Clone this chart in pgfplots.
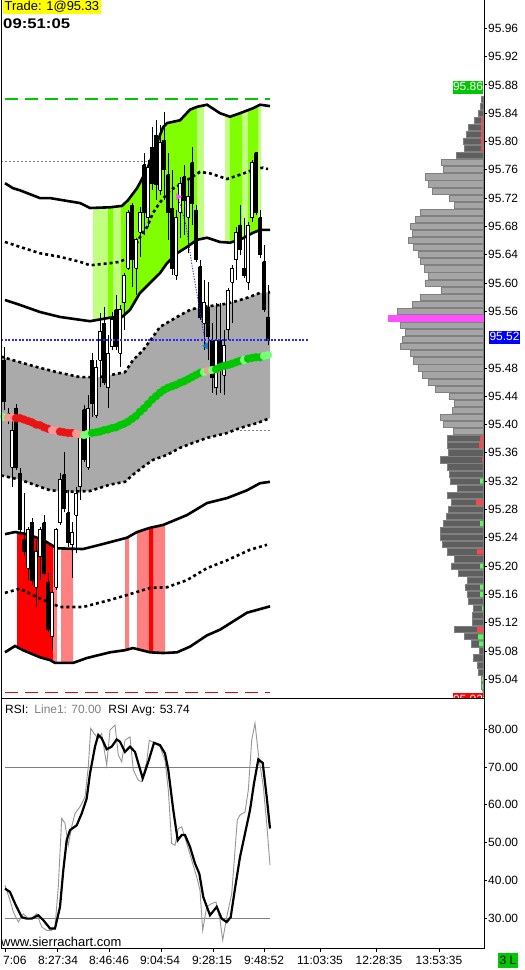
\documentclass[border=0pt]{standalone}
\usepackage{pgfplots}
\pgfplotsset{compat=1.18}
\usepackage{pgfplotstable}
\usepackage{fontspec}
\setmainfont{Liberation Sans}

\definecolor{cGb}{RGB}{128,255,0}
\definecolor{cGl}{RGB}{192,255,128}
\definecolor{cRb}{RGB}{255,0,0}
\definecolor{cRl}{RGB}{255,128,128}
\definecolor{cBand}{RGB}{170,170,170}
\definecolor{cR}{RGB}{235,20,20}
\definecolor{cP}{RGB}{255,150,150}
\definecolor{cG}{RGB}{0,200,0}
\definecolor{cL}{RGB}{120,255,120}
\definecolor{cDashG}{RGB}{0,200,0}
\definecolor{cDashR}{RGB}{230,0,0}
\definecolor{cProfL}{RGB}{165,165,165}
\definecolor{cProfD}{RGB}{95,95,95}
\definecolor{cProfO}{RGB}{128,128,128}
\definecolor{cMag}{RGB}{255,80,255}
\definecolor{cMkR}{RGB}{255,70,70}
\definecolor{cMkG}{RGB}{80,255,80}
\definecolor{cYel}{RGB}{255,255,0}
\definecolor{cBlue}{RGB}{0,0,255}
\definecolor{cBlueL}{RGB}{40,40,255}
\definecolor{cTri}{RGB}{30,120,200}
\definecolor{tgray}{RGB}{128,128,128}
\definecolor{cRSIg}{RGB}{150,150,150}

% candle: x, open, high, low, close
\newcommand\candle[5]{%
  \pgfmathsetmacro\xa{#1-1.4}%
  \pgfmathsetmacro\xb{#1+1.4}%
  \ifdim #5pt>#2pt \def\cfill{white}\else\def\cfill{black}\fi
  \edef\tmp{%
    \noexpand\addplot[black, line width=1bp] coordinates {(#1,#4) (#1,#3)};
    \noexpand\addplot[draw=black, fill=\cfill, line width=0.9bp] coordinates {(\xa,#2) (\xb,#2) (\xb,#5) (\xa,#5) (\xa,#2)};
  }\tmp}

\pgfplotstableread{
x y
5 95.741
13 95.734
20 95.731
40 95.720
50 95.720
80 95.713
90 95.706
110 95.707
122 95.709
128 95.717
137 95.734
147 95.760
157 95.798
163 95.820
167 95.826
180 95.830
190 95.845
197 95.849
207 95.852
220 95.840
230 95.835
240 95.840
253 95.847
260 95.852
270 95.850
}\UA
\pgfplotstableread{
x y
5 95.658
20 95.651
40 95.642
60 95.637
80 95.630
90 95.625
110 95.628
120 95.630
130 95.637
140 95.665
147 95.679
153 95.699
160 95.714
170 95.731
180 95.739
190 95.748
200 95.757
210 95.755
227 95.747
240 95.753
253 95.760
263 95.763
268 95.761
}\UB
\pgfplotstableread{
x y
5 95.576
20 95.569
40 95.559
60 95.552
80 95.548
90 95.546
110 95.551
122 95.552
130 95.562
140 95.586
150 95.600
160 95.614
167 95.628
177 95.642
187 95.651
197 95.661
207 95.664
220 95.658
230 95.657
240 95.661
253 95.671
260 95.675
270 95.675
}\UC
\pgfplotstableread{
x y
1 95.496
20 95.488
40 95.480
60 95.473
80 95.467
100 95.467
125 95.474
133 95.491
143 95.505
153 95.524
160 95.538
177 95.552
190 95.562
200 95.566
220 95.569
233 95.573
247 95.579
260 95.586
270 95.587
}\MA
\pgfplotstableread{
x y
1 95.328
20 95.322
40 95.312
50 95.307
70 95.305
90 95.306
110 95.315
125 95.319
133 95.329
143 95.340
153 95.350
167 95.357
180 95.367
193 95.374
207 95.381
227 95.388
240 95.395
257 95.402
270 95.409
}\MB
% gray band outline: upper edge left to right, lower edge right to left
\pgfplotstableread{
x y
1 95.496
20 95.488
40 95.480
60 95.473
80 95.467
100 95.467
125 95.474
133 95.491
143 95.505
153 95.524
160 95.538
177 95.552
190 95.562
200 95.566
220 95.569
233 95.573
247 95.579
260 95.586
270 95.587
270 95.409
257 95.402
240 95.395
227 95.388
207 95.381
193 95.374
180 95.367
167 95.357
153 95.350
143 95.340
133 95.329
125 95.319
110 95.315
90 95.306
70 95.305
50 95.307
40 95.312
20 95.322
1 95.328
}\Band
\pgfplotstableread{
x y
5 95.245
15 95.248
27 95.245
43 95.237
57 95.225
83 95.224
100 95.230
127 95.240
137 95.248
150 95.254
163 95.258
170 95.262
187 95.272
207 95.289
227 95.296
247 95.307
260 95.317
270 95.319
}\LA
\pgfplotstableread{
x y
5 95.162
20 95.168
37 95.156
60 95.142
83 95.142
110 95.152
127 95.159
150 95.169
167 95.170
187 95.180
207 95.197
227 95.208
250 95.223
267 95.230
}\LB
\pgfplotstableread{
x y
5 95.078
15 95.087
23 95.081
40 95.071
50 95.067
55 95.063
73 95.063
87 95.070
110 95.078
125 95.081
133 95.084
150 95.078
163 95.077
177 95.078
190 95.086
207 95.102
220 95.110
247 95.134
270 95.143
}\LC
\pgfplotstableread{
x y c
4 95.411 l
8 95.410 p
12 95.410 p
16 95.409 r
20 95.409 r
24 95.407 r
28 95.405 r
32 95.403 r
36 95.400 r
40 95.399 r
44 95.396 r
48 95.394 r
52 95.392 p
56 95.391 p
60 95.390 r
64 95.389 r
68 95.388 r
72 95.388 r
76 95.387 p
80 95.386 p
84 95.385 l
88 95.387 l
92 95.388 g
96 95.389 g
100 95.390 g
104 95.392 g
108 95.393 g
112 95.395 g
116 95.396 g
120 95.399 g
124 95.401 g
128 95.404 g
132 95.408 g
136 95.412 g
140 95.418 g
144 95.423 g
148 95.429 g
152 95.435 g
156 95.440 g
160 95.445 g
164 95.449 g
168 95.452 g
172 95.454 g
176 95.456 g
180 95.459 g
184 95.461 g
188 95.464 g
192 95.467 g
196 95.470 g
200 95.473 g
204 95.474 l
208 95.476 p
212 95.477 l
216 95.478 g
220 95.481 g
224 95.483 g
228 95.484 g
232 95.486 g
236 95.488 g
240 95.490 g
244 95.491 l
248 95.493 g
252 95.494 g
256 95.495 g
260 95.495 g
264 95.497 l
268 95.498 l
}\Mid
\pgfplotstableread{
l p
2 95.86
3 95.85
5 95.84
9 95.83
15 95.82
17 95.81
20 95.80
19 95.79
27 95.78
36 95.38
36 95.37
35 95.36
43 95.35
36 95.34
34 95.33
33 95.32
26 95.31
36 95.30
32 95.29
35 95.28
37 95.27
40 95.26
43 95.25
43 95.24
41 95.23
36 95.22
29 95.21
32 95.20
25 95.19
16 95.18
18 95.17
16 95.16
15 95.15
10 95.14
11 95.13
11 95.12
29 95.11
19 95.10
12 95.09
4 95.08
10 95.07
6 95.06
5 95.05
2 95.04
2 95.03
1 95.02
}\ProfD
\pgfplotstableread{
l p
42 95.77
40 95.76
58 95.75
55 95.74
51 95.73
34 95.72
29 95.71
63 95.70
68 95.69
73 95.68
71 95.67
75 95.66
70 95.65
65 95.64
63 95.63
59 95.62
55 95.61
58 95.60
42 95.59
63 95.58
71 95.57
86 95.56
83 95.54
78 95.53
81 95.52
83 95.51
73 95.50
70 95.49
65 95.48
61 95.47
55 95.46
48 95.45
34 95.44
29 95.43
31 95.42
43 95.41
40 95.40
30 95.39
}\ProfL
\pgfplotstableread{
l p
2 95.83
2 95.82
2 95.81
2 95.80
2 95.79
3 95.38
4 95.37
1 95.35
7 95.29
6 95.22
6 95.11
}\MkR
\pgfplotstableread{
l p
3 95.32
3 95.26
3 95.20
3 95.17
3 95.16
1 95.14
5 95.10
4 95.09
1 95.04
1 95.03
1 95.02
}\MkG
\pgfplotstableread{
x v
5 38.7
10 34.8
13.3 31.7
18.3 29.0
23.3 31.2
28.3 29.9
33.3 30.3
36.7 31.2
41.7 27.7
46.7 26.8
51.7 26.8
55 27.7
58.3 38.3
61.7 56.4
65 55.1
68.3 49.3
71.7 54.2
75 57.7
80 59.5
85 62.1
88.3 70.1
90.7 80.2
94 78.9
98.3 77.6
101.7 78.9
106.7 70.5
110 79.8
115 81.1
118.3 73.2
121.7 71.4
125 77.1
130 78.0
133.3 69.2
138.3 66.5
141.7 66.1
146.7 71.4
149.3 77.1
154 76.4
160 75.4
165 71.8
168.3 63.9
171.7 49.8
175 49.3
178.3 53.7
181.7 54.2
186.7 49.8
191.7 45.4
196.7 40.9
200 37.4
202.7 26.8
206.7 33.0
211.7 33.9
216 34.3
220 29.5
222.7 24.2
226.7 30.3
231.7 36.5
237.3 56.0
240 57.3
245 58.1
248.3 63.9
251.7 77.1
255 81.6
258.3 73.6
263.3 64.8
266.7 55.1
270 44.0
}\RSIraw
\pgfplotstableread{
x v
5 37.85
10 36.95
15 33.9
21.7 30.3
26.7 29.9
31.7 29.9
38.3 30.8
43.3 29.5
50 27.3
55 27.3
60 33.0
63.3 42.7
66.7 50.65
70 53.3
76.7 54.6
81.7 57.7
86.7 61.7
90 68.3
95 75.4
98.3 78.5
101.7 77.6
106.7 74.7
111.7 75.4
116.7 77.3
120 76.7
125 74.0
130 75.4
135 74.0
138.3 71.0
142.7 67.0
148.3 71.4
154 76.4
160 75.8
165 73.6
168.3 69.2
173.3 58.6
177.7 50.65
181.7 52.0
185 52.0
190 48.9
195 44.5
199.3 41.8
203.3 35.6
210 30.8
216.7 33.0
221.7 29.9
226.7 29.0
230.7 30.3
235 37.85
240 46.2
245 52.4
250 58.6
254 65.7
258.3 72.0
262.7 71.1
266.7 62.1
270 53.74
}\RSIavg

\begin{document}
\begin{tikzpicture}
\useasboundingbox (0,0) rectangle (525bp,970bp);

% ===== main price panel =====
\begin{axis}[at={(1bp,271.5bp)}, anchor=south west, scale only axis,
  width=483bp, height=698.5bp, xmin=1, xmax=484, ymin=95.01274, ymax=96,
  axis line style={draw=none}, clip=true,
  xtick=\empty,
  ytick={95.04,95.08,95.12,95.16,95.20,95.24,95.28,95.32,95.36,95.40,95.44,95.48,95.56,95.60,95.64,95.68,95.72,95.76,95.80,95.84,95.88,95.92,95.96},
  ytick pos=right, yticklabel pos=right, tick align=outside,
  major tick length=3bp, tick style={black, line width=0.8bp},
  scaled y ticks=false,
  yticklabel style={font=\fontsize{12}{12}\selectfont, anchor=west, inner sep=1bp,
    /pgf/number format/fixed, /pgf/number format/fixed zerofill,
    /pgf/number format/precision=2, /pgf/number format/assume math mode=true}]

% gray middle band
\addplot[fill=cBand, draw=none] table[x=x,y=y] \Band;
% green highlight fills (between upper band lines)
\addplot[fill=cGl, draw=none] coordinates {(93,95.706)(110,95.707)(122,95.709)(128,95.717)(137,95.734)(147,95.760)(157,95.798)(163,95.820)(167,95.826)(180,95.830)(190,95.845)(197,95.849)(207,95.852)(220,95.840)(230,95.835)(240,95.840)(253,95.847)(260,95.852)(261,95.852)
  (261,95.675)(260,95.675)(253,95.671)(240,95.661)(230,95.657)(220,95.658)(207,95.664)(197,95.661)(187,95.651)(177,95.642)(167,95.628)(160,95.614)(150,95.600)(140,95.586)(130,95.562)(122,95.552)(110,95.551)(93,95.547)};
\addplot[fill=cGb, draw=none] coordinates {(108,95.707)(113,95.708)(113,95.551)(108,95.551)};
\addplot[fill=cGb, draw=none] coordinates {(121,95.709)(122,95.709)(128,95.717)(137,95.734)(147,95.760)(157,95.798)(163,95.820)(167,95.826)(180,95.830)(190,95.845)(197,95.849)
  (197,95.661)(187,95.651)(177,95.642)(167,95.628)(160,95.614)(150,95.600)(140,95.586)(130,95.562)(122,95.552)(121,95.552)};
\addplot[fill=cGb, draw=none] coordinates {(230,95.835)(240,95.840)(242,95.841)(242,95.662)(240,95.661)(230,95.657)};
\addplot[fill=cGb, draw=none] coordinates {(248,95.844)(253,95.847)(258,95.851)(258,95.674)(253,95.671)(248,95.667)};
\addplot[fill=white, draw=none] coordinates {(204,95.853)(207,95.853)(220,95.841)(225,95.839)(225,95.657)(220,95.657)(207,95.663)(204,95.662)};
% red highlight fills (between lower band lines)
\addplot[fill=cRb, draw=none] coordinates {(17,95.2475)(27,95.245)(43,95.237)(53,95.228)(53,95.065)(50,95.067)(40,95.071)(23,95.081)(17,95.086)};
\addplot[fill=cRl, draw=none] coordinates {(53,95.228)(57,95.225)(57,95.063)(53,95.065)};
\addplot[fill=cRl, draw=none] coordinates {(61,95.225)(73,95.224)(73,95.063)(61,95.063)};
\addplot[fill=cRl, draw=none] coordinates {(125,95.239)(127,95.240)(129,95.242)(129,95.083)(125,95.081)};
\addplot[fill=cRl, draw=none] coordinates {(137,95.248)(150,95.254)(163,95.258)(165,95.259)(165,95.077)(163,95.077)(150,95.078)(137,95.083)};
\addplot[fill=cRb, draw=none] coordinates {(149,95.254)(153,95.255)(153,95.078)(149,95.078)};

% band lines
\addplot[black, line width=2.6bp] table[x=x,y=y] \UA;
\addplot[black, line width=2.6bp, dash pattern=on 3bp off 3bp] table[x=x,y=y] \UB;
\addplot[black, line width=2.6bp] table[x=x,y=y] \UC;
\addplot[black, line width=2.6bp, dash pattern=on 3bp off 3bp] table[x=x,y=y] \MA;
\addplot[black, line width=2.6bp, dash pattern=on 3bp off 3bp] table[x=x,y=y] \MB;
\addplot[black, line width=2.6bp] table[x=x,y=y] \LA;
\addplot[black, line width=2.6bp, dash pattern=on 3bp off 3bp] table[x=x,y=y] \LB;
\addplot[black, line width=2.6bp] table[x=x,y=y] \LC;

% reference lines
\addplot[cDashG, line width=1.5bp, dash pattern=on 13bp off 7bp] coordinates {(5,95.86) (270,95.86)};
\addplot[cDashR, line width=1.5bp, dash pattern=on 13bp off 7bp] coordinates {(5,95.021) (270,95.021)};
\addplot[tgray, line width=0.9bp, dash pattern=on 2bp off 2bp] coordinates {(1,95.772) (148,95.772)};
\addplot[tgray, line width=0.9bp, dash pattern=on 2bp off 2bp] coordinates {(240,95.392) (270,95.392)};

% candles
\candle{4}{95.491}{95.510}{95.421}{95.432}
\candle{8}{95.415}{95.423}{95.401}{95.408}
\candle{12}{95.340}{95.406}{95.312}{95.392}
\candle{16}{95.423}{95.429}{95.336}{95.340}
\candle{20}{95.331}{95.339}{95.248}{95.251}
\candle{24}{95.237}{95.303}{95.214}{95.220}
\candle{28}{95.197}{95.255}{95.180}{95.252}
\candle{32}{95.262}{95.268}{95.173}{95.180}
\candle{36}{95.170}{95.237}{95.142}{95.220}
\candle{40}{95.213}{95.255}{95.180}{95.252}
\candle{44}{95.261}{95.272}{95.187}{95.190}
\candle{48}{95.177}{95.190}{95.107}{95.110}
\candle{52}{95.100}{95.166}{95.081}{95.162}
\candle{56}{95.170}{95.254}{95.166}{95.251}
\candle{60}{95.261}{95.331}{95.258}{95.322}
\candle{64}{95.329}{95.361}{95.276}{95.282}
\candle{68}{95.275}{95.307}{95.227}{95.233}
\candle{72}{95.230}{95.262}{95.183}{95.248}
\candle{76}{95.272}{95.312}{95.218}{95.303}
\candle{80}{95.312}{95.388}{95.293}{95.382}
\candle{84}{95.421}{95.428}{95.347}{95.350}
\candle{88}{95.340}{95.442}{95.336}{95.423}
\candle{92}{95.491}{95.501}{95.411}{95.430}
\candle{96}{95.413}{95.491}{95.409}{95.481}
\candle{100}{95.491}{95.558}{95.453}{95.532}
\candle{104}{95.543}{95.566}{95.456}{95.460}
\candle{108}{95.452}{95.527}{95.423}{95.501}
\candle{112}{95.510}{95.559}{95.505}{95.548}
\candle{116}{95.562}{95.583}{95.505}{95.510}
\candle{120}{95.501}{95.569}{95.481}{95.562}
\candle{124}{95.572}{95.614}{95.534}{95.611}
\candle{128}{95.621}{95.703}{95.618}{95.700}
\candle{132}{95.710}{95.713}{95.594}{95.633}
\candle{136}{95.621}{95.664}{95.583}{95.661}
\candle{140}{95.672}{95.707}{95.637}{95.700}
\candle{144}{95.767}{95.784}{95.668}{95.700}
\candle{148}{95.692}{95.774}{95.679}{95.763}
\candle{152}{95.792}{95.820}{95.731}{95.741}
\candle{156}{95.809}{95.830}{95.717}{95.739}
\candle{160}{95.731}{95.823}{95.724}{95.799}
\candle{164}{95.802}{95.842}{95.717}{95.760}
\candle{168}{95.753}{95.784}{95.661}{95.700}
\candle{172}{95.706}{95.760}{95.611}{95.621}
\candle{176}{95.611}{95.703}{95.604}{95.692}
\candle{180}{95.700}{95.750}{95.664}{95.741}
\candle{184}{95.750}{95.767}{95.668}{95.717}
\candle{188}{95.693}{95.746}{95.642}{95.722}
\candle{192}{95.770}{95.792}{95.682}{95.713}
\candle{196}{95.703}{95.710}{95.630}{95.633}
\candle{200}{95.623}{95.633}{95.548}{95.552}
\candle{204}{95.543}{95.604}{95.505}{95.572}
\candle{208}{95.566}{95.601}{95.491}{95.524}
\candle{212}{95.519}{95.543}{95.445}{95.467}
\candle{216}{95.452}{95.572}{95.442}{95.519}
\candle{220}{95.519}{95.572}{95.445}{95.487}
\candle{224}{95.470}{95.534}{95.442}{95.512}
\candle{228}{95.534}{95.593}{95.519}{95.590}
\candle{232}{95.601}{95.625}{95.543}{95.621}
\candle{236}{95.633}{95.679}{95.604}{95.672}
\candle{240}{95.682}{95.710}{95.640}{95.647}
\candle{244}{95.621}{95.692}{95.607}{95.611}
\candle{248}{95.601}{95.686}{95.590}{95.682}
\candle{252}{95.692}{95.774}{95.686}{95.771}
\candle{256}{95.784}{95.785}{95.696}{95.700}
\candle{260}{95.692}{95.703}{95.635}{95.640}
\candle{264}{95.630}{95.654}{95.559}{95.562}
\candle{268}{95.552}{95.597}{95.512}{95.519}

% middle beads line
\addplot[scatter, only marks, scatter src=explicit symbolic, mark size=3.9bp,
  scatter/classes={r={mark=*,draw=cR,fill=cR}, p={mark=*,draw=cP,fill=cP},
                   g={mark=*,draw=cG,fill=cG}, l={mark=*,draw=cL,fill=cL}}]
  table[x=x,y=y,meta=c] \Mid;

% last price line and trade markers
\addplot[cBlueL, line width=2bp, dash pattern=on 2bp off 1.5bp] coordinates {(1,95.52) (308,95.52)};
\addplot[cBlueL, line width=0.9bp, dash pattern=on 1.2bp off 1.5bp] coordinates {(178,95.722) (186,95.682) (192,95.625) (198,95.576) (203,95.534) (206,95.512)};
\addplot[only marks, mark=triangle*, mark size=3.5bp, mark options={rotate=-90, fill=cMag, draw=cMag}] coordinates {(178,95.722)};
\addplot[only marks, mark=triangle*, mark size=3.5bp, mark options={rotate=90, fill=cTri, draw=cTri}] coordinates {(206,95.511)};
\end{axis}

% ===== volume profile =====
\begin{axis}[at={(1bp,271.5bp)}, anchor=south west, scale only axis,
  width=483bp, height=698.5bp, xmin=-1, xmax=482, x dir=reverse,
  ymin=95.01274, ymax=96, hide axis, clip=true]
\addplot[xbar, bar width=6.2bp, bar shift=0pt, fill=cProfL, draw=cProfO, line width=0.8bp] table[x=l,y=p] \ProfL;
\addplot[xbar, bar width=6.2bp, bar shift=0pt, fill=cProfD, draw=cProfO, line width=0.8bp] table[x=l,y=p] \ProfD;
\addplot[xbar, bar width=6.2bp, bar shift=0pt, fill=cMag, draw=cMag, line width=0.8bp] coordinates {(95,95.55)};
\addplot[xbar, bar width=5bp, bar shift=0pt, fill=cMkR, draw=none] table[x=l,y=p] \MkR;
\addplot[xbar, bar width=5bp, bar shift=0pt, fill=cMkG, draw=none] table[x=l,y=p] \MkG;
\end{axis}

% frame of main panel
\draw[black, line width=1bp] (1bp,271.5bp) -- (1bp,970bp);
\draw[black, line width=1bp] (484bp,271.5bp) -- (484bp,970bp);

% price label boxes
\node[fill=cG, text=white, inner xsep=0.5bp, inner ysep=1bp, text height=9bp, text depth=2bp,
  font=\fontsize{12}{12}\selectfont] at (468bp,882.5bp) {95.86};
\node[fill=cBlue, text=white, inner xsep=1bp, inner ysep=1bp, text height=9bp, text depth=2bp,
  font=\fontsize{12}{12}\selectfont] at (504.5bp,632.5bp) {95.52};
\node[fill=cRb, text=white, inner xsep=0.5bp, inner ysep=1bp, text height=9bp, text depth=2bp,
  font=\fontsize{12}{12}\selectfont] at (468bp,270bp) {95.02};

% header texts
\node[fill=cYel, anchor=north west, inner xsep=1.5bp, inner ysep=0.5bp, text height=10bp, text depth=3bp,
  font=\fontsize{13}{13}\selectfont] at (3bp,970bp) {Trade: 1@95.33};
\node[anchor=base west, inner sep=0pt, font=\fontsize{14}{14}\bfseries] at (3bp,941bp) {\scalebox{1.2}[1]{09:51:05}};

% ===== RSI panel =====
\begin{axis}[at={(1bp,21.5bp)}, anchor=south west, scale only axis,
  width=483bp, height=250bp, xmin=1, xmax=484, ymin=22.0, ymax=88.13,
  axis background/.style={fill=white},
  axis line style={black, line width=1bp},
  xtick={5,57,109,161,213,264,320,376,439}, xticklabels={},
  xtick pos=left, ytick pos=right, yticklabel pos=right,
  ytick={30,40,50,60,70,80},
  tick align=outside, major tick length=3bp, tick style={black, line width=0.8bp},
  yticklabel style={font=\fontsize{12}{12}\selectfont, anchor=west, inner sep=1bp,
    /pgf/number format/fixed, /pgf/number format/fixed zerofill,
    /pgf/number format/precision=2, /pgf/number format/assume math mode=true},
  clip=true]
\addplot[tgray, line width=1bp] coordinates {(5,70) (270,70)};
\addplot[tgray, line width=1bp] coordinates {(5,30) (270,30)};
\addplot[cRSIg, line width=0.9bp] table[x=x,y=v] \RSIraw;
\addplot[black, line width=2.2bp] table[x=x,y=v] \RSIavg;
\end{axis}

\node[anchor=base west, inner sep=0pt, font=\fontsize{12}{12}\selectfont] at (5bp,256.5bp)
  {RSI:\hspace{6bp}\textcolor{tgray}{Line1: 70.00}\hspace{7bp}RSI Avg: 53.74};
\node[anchor=base west, inner sep=0pt, font=\fontsize{13}{13}\selectfont] at (1bp,23.5bp) {www.sierrachart.com};

% time labels
\begin{scope}[every node/.style={anchor=base, inner sep=0pt, font=\fontsize{12}{12}\selectfont}]
\node[anchor=base west] at (3bp,6bp) {7:06};
\node at (58bp,6bp) {8:27:34};
\node at (109bp,6bp) {8:46:46};
\node at (160bp,6bp) {9:04:54};
\node at (212bp,6bp) {9:28:15};
\node at (264bp,6bp) {9:48:52};
\node at (320bp,6bp) {11:03:35};
\node at (379bp,6bp) {12:28:35};
\node at (439bp,6bp) {13:53:35};
\end{scope}
\node[fill=cG, inner xsep=1.7bp, inner ysep=1bp, text height=10bp, text depth=2.5bp,
  font=\fontsize{12}{12}\selectfont] at (508bp,9.5bp) {3 L};
\end{tikzpicture}
\end{document}
